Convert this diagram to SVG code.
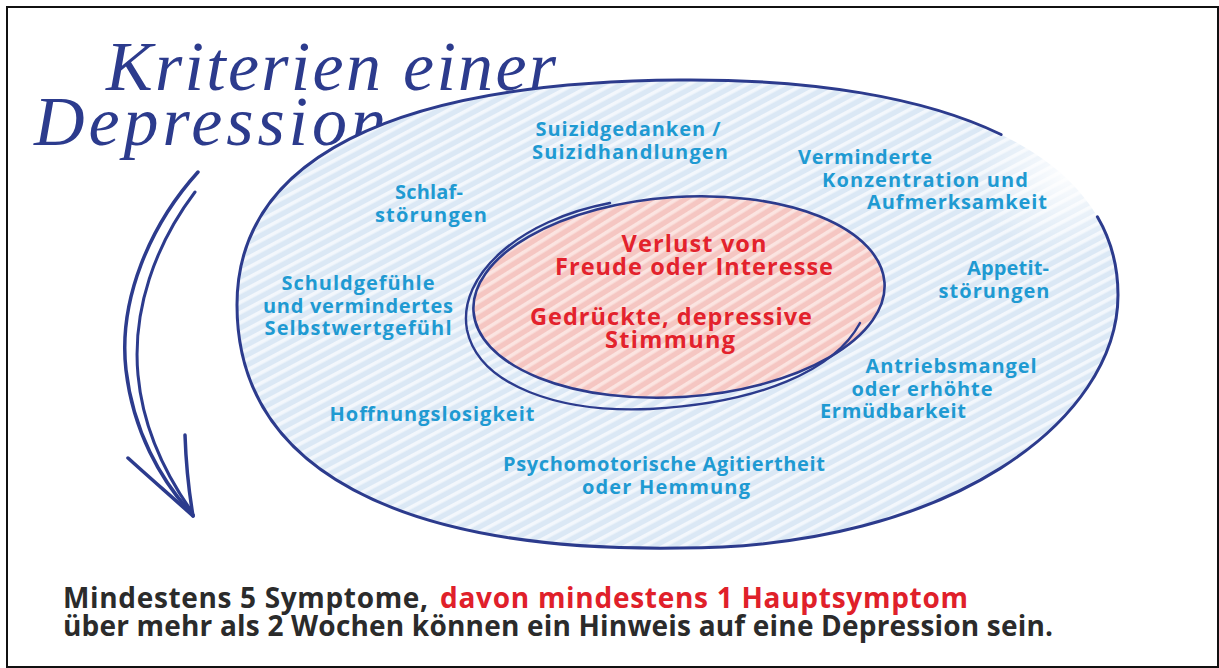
<svg xmlns="http://www.w3.org/2000/svg" width="1219" height="668" viewBox="0 0 1219 668">
<defs>
<pattern id="hatchBlue" width="9" height="9" patternUnits="userSpaceOnUse" patternTransform="rotate(-28)">
<rect width="9" height="9" fill="#dbe8f5"/>
<rect y="0" width="9" height="3.6" fill="#f3f7fc"/>
</pattern>
<pattern id="hatchPink" width="9" height="9" patternUnits="userSpaceOnUse" patternTransform="rotate(-28)">
<rect width="9" height="9" fill="#f5c6c2"/>
<rect y="0" width="9" height="3.6" fill="#fbe4e1"/>
</pattern>
<radialGradient id="fade" cx="0.5" cy="0.5" r="0.5">
<stop offset="0" stop-color="#ffffff" stop-opacity="0.9"/>
<stop offset="1" stop-color="#ffffff" stop-opacity="0"/>
</radialGradient>
<style>
.pen{fill:none;stroke:#2c3b8d;stroke-linecap:round;stroke-linejoin:round}
.hand{font-family:"Liberation Serif","DejaVu Serif",serif;font-style:italic;font-size:70px;fill:#2c3b8d}
.lbl{font-family:"Open Sans","Noto Sans",sans-serif;font-weight:700;font-size:20px;fill:#1f9ad2;text-anchor:middle}
.lbs{font-family:"Open Sans","Noto Sans",sans-serif;font-weight:700;font-size:20px;fill:#1f9ad2}
.core{font-family:"Open Sans","Noto Sans",sans-serif;font-weight:700;font-size:23.5px;fill:#e3222c;text-anchor:middle}
.foot{font-family:"Open Sans","Noto Sans",sans-serif;font-weight:700;font-size:28px;fill:#2b2b2b}
.footred{fill:#e0202a}
</style>
</defs>
<rect width="1219" height="668" fill="#ffffff"/>
<rect x="7" y="7" width="1211" height="660" fill="none" stroke="#111111" stroke-width="2"/>

<g id="title">
<text class="hand" x="106" y="90" textLength="450" lengthAdjust="spacing">Kriterien einer</text>
<text class="hand" x="34" y="145" textLength="352" lengthAdjust="spacing">Depression</text>
</g>

<g id="connectors">
<g id="cycle-arrow">
<path class="pen" stroke-width="3.5" d="M198,172 C150,225 118,300 126,370 C133,430 160,480 193,515"/>
<path class="pen" stroke-width="3" d="M195,192 C155,245 132,310 138,375 C143,430 168,478 192,512"/>
<path class="pen" stroke-width="3.5" d="M128,458 C150,478 172,497 193,516"/>
<path class="pen" stroke-width="3.5" d="M185,435 C186,465 189,492 193,516"/>
</g>
</g>

<g id="outer-ring">
<path fill="url(#hatchBlue)" d="M237,305 C237,160 390,82 680,80 C940,78 1118,150 1118,295 C1118,420 950,548 680,548 C400,552 237,470 237,305 Z"/>
<ellipse cx="1065" cy="175" rx="95" ry="80" fill="url(#fade)"/>
<path class="pen" stroke-width="3" d="M1097.4,216.8 C1110.9,239.9 1118,266 1118,295 C1118,420 950,548 680,548 C400,552 237,470 237,305 C237,160 390,82 680,80 C812.6,79 923.9,97.2 1001.1,134.5"/>
</g>

<g id="core">
<ellipse cx="679" cy="297" rx="206" ry="100" transform="rotate(-4 679 297)" fill="url(#hatchPink)"/>
<ellipse class="pen" stroke-width="2.6" cx="679" cy="297" rx="206" ry="100" transform="rotate(-4 679 297)"/>
<path class="pen" stroke-width="2.4" d="M860,323 C835,370 760,403 650,409 C560,413 479,386 467,330 C457,275 520,220 610,203"/>
<text class="core" x="694" y="252" textLength="145" lengthAdjust="spacing">Verlust von</text>
<text class="core" x="694" y="275" textLength="278" lengthAdjust="spacing">Freude oder Interesse</text>
<text class="core" x="671" y="325" textLength="282" lengthAdjust="spacing">Gedrückte, depressive</text>
<text class="core" x="670" y="348" textLength="130" lengthAdjust="spacing">Stimmung</text>
</g>

<g id="suizid">
<text class="lbl" x="628" y="136" textLength="185" lengthAdjust="spacing">Suizidgedanken /</text>
<text class="lbl" x="630" y="159" textLength="196" lengthAdjust="spacing">Suizidhandlungen</text>
</g>
<g id="schlaf">
<text class="lbl" x="429" y="199" textLength="68" lengthAdjust="spacing">Schlaf-</text>
<text class="lbl" x="431" y="222" textLength="112" lengthAdjust="spacing">störungen</text>
</g>
<g id="konzentration">
<text class="lbs" x="798" y="164" textLength="134" lengthAdjust="spacing">Verminderte</text>
<text class="lbs" x="822" y="187" textLength="206" lengthAdjust="spacing">Konzentration und</text>
<text class="lbs" x="867" y="209" textLength="180" lengthAdjust="spacing">Aufmerksamkeit</text>
</g>
<g id="appetit">
<text class="lbl" x="1008" y="275" textLength="82" lengthAdjust="spacing">Appetit-</text>
<text class="lbl" x="994" y="298" textLength="111" lengthAdjust="spacing">störungen</text>
</g>
<g id="schuld">
<text class="lbl" x="358" y="290" textLength="153" lengthAdjust="spacing">Schuldgefühle</text>
<text class="lbl" x="358" y="313" textLength="190" lengthAdjust="spacing">und vermindertes</text>
<text class="lbl" x="358" y="335" textLength="187" lengthAdjust="spacing">Selbstwertgefühl</text>
</g>
<g id="hoffnung">
<text class="lbl" x="432" y="421" textLength="205" lengthAdjust="spacing">Hoffnungslosigkeit</text>
</g>
<g id="antrieb">
<text class="lbl" x="951" y="373" textLength="171" lengthAdjust="spacing">Antriebsmangel</text>
<text class="lbl" x="922" y="396" textLength="141" lengthAdjust="spacing">oder erhöhte</text>
<text class="lbl" x="893" y="418" textLength="146" lengthAdjust="spacing">Ermüdbarkeit</text>
</g>
<g id="psychomotorik">
<text class="lbl" x="664" y="471" textLength="322" lengthAdjust="spacing">Psychomotorische Agitiertheit</text>
<text class="lbl" x="666" y="494" textLength="168" lengthAdjust="spacing">oder Hemmung</text>
</g>

<g id="footer">
<text class="foot" x="63" y="608" textLength="365" lengthAdjust="spacing">Mindestens 5 Symptome,</text>
<text class="foot footred" x="440" y="608" textLength="528" lengthAdjust="spacing">davon mindestens 1 Hauptsymptom</text>
<text class="foot" x="63" y="636" textLength="990" lengthAdjust="spacing">über mehr als 2 Wochen können ein Hinweis auf eine Depression sein.</text>
</g>
</svg>
